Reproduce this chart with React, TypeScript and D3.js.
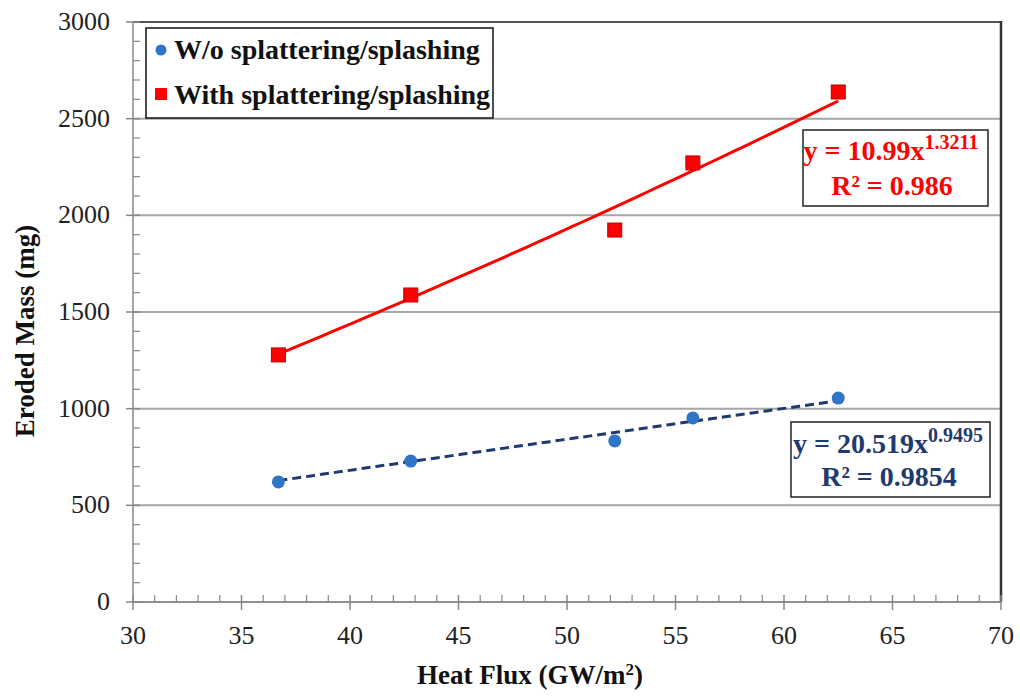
import React from "react";
import * as d3 from "d3";

const heatFlux = [36.7, 42.8, 52.2, 55.8, 62.5];
const massWithout = [621, 729, 833, 952, 1055];
const massWith = [1278, 1588, 1924, 2271, 2638];
const xTicks = [30, 35, 40, 45, 50, 55, 60, 65, 70];
const yTicks = [0, 500, 1000, 1500, 2000, 2500, 3000];
const fitWithoutA = 20.519;
const fitWithoutB = 0.9495;
const fitWithA = 10.99;
const fitWithB = 1.3211;
const seriesNames = ["W/o splattering/splashing", "With splattering/splashing"];

const W = 1020;
const H = 698;
const M = { left: 133, right: 1001, top: 22, bottom: 602 };
const FONT = "'Liberation Serif', 'Times New Roman', serif";
const BLUE = "#2e75c6";
const NAVY = "#1f3a6e";
const RED = "#ff0000";

export default function App() {
  const x = d3.scaleLinear().domain([30, 70]).range([M.left, M.right]);
  const y = d3.scaleLinear().domain([0, 3000]).range([M.bottom, M.top]);
  const xMinor = d3.range(30, 71, 1).filter((v) => v % 5 !== 0);
  const yMinor = d3.range(0, 3001, 100).filter((v) => v % 500 !== 0);

  const xMin = d3.min(heatFlux)!;
  const xMax = d3.max(heatFlux)!;
  const fitXs = d3.range(xMin, xMax, 0.5).concat([xMax]);
  const line = d3
    .line<[number, number]>()
    .x((d) => x(d[0]))
    .y((d) => y(d[1]));
  const fitWithout = line(fitXs.map((v) => [v, fitWithoutA * Math.pow(v, fitWithoutB)] as [number, number]));
  const fitWith = line(fitXs.map((v) => [v, fitWithA * Math.pow(v, fitWithB)] as [number, number]));

  return (
    <div style={{ position: "absolute", left: 0, top: 0 }}>
      <svg width={W} height={H} style={{ display: "block", background: "#fff" }}>
        {/* grid */}
        {yTicks.map((t) => (
          <line key={"g" + t} x1={M.left} x2={M.right} y1={y(t)} y2={y(t)} stroke="#a6a6a6" strokeWidth={2} />
        ))}
        {/* top border */}
        <line x1={M.left} x2={M.right} y1={M.top} y2={M.top} stroke="#555" strokeWidth={2} />
        {/* right border */}
        <line x1={M.right} x2={M.right} y1={M.top - 1} y2={M.bottom} stroke="#333" strokeWidth={2.5} />
        {/* y axis */}
        <line x1={M.left} x2={M.left} y1={M.top} y2={M.bottom} stroke="#888" strokeWidth={1.5} />
        {yTicks.map((t) => (
          <line key={"ym" + t} x1={M.left - 7} x2={M.left + 7} y1={y(t)} y2={y(t)} stroke="#888" strokeWidth={1.5} />
        ))}
        {yMinor.map((t) => (
          <line key={"yn" + t} x1={M.left} x2={M.left + 7} y1={y(t)} y2={y(t)} stroke="#888" strokeWidth={1.2} />
        ))}
        {yTicks.map((t) => (
          <text key={"yl" + t} x={M.left - 23} y={y(t) + 8} textAnchor="end" fontFamily={FONT} fontSize={26} fill="#222">
            {t}
          </text>
        ))}
        {/* x axis */}
        <line x1={M.left} x2={M.right} y1={M.bottom} y2={M.bottom} stroke="#888" strokeWidth={1.5} />
        {xTicks.map((t) => (
          <line key={"xm" + t} x1={x(t)} x2={x(t)} y1={M.bottom - 7} y2={M.bottom + 8} stroke="#888" strokeWidth={1.5} />
        ))}
        {xMinor.map((t) => (
          <line key={"xn" + t} x1={x(t)} x2={x(t)} y1={M.bottom - 7} y2={M.bottom} stroke="#888" strokeWidth={1.2} />
        ))}
        {xTicks.map((t) => (
          <text key={"xl" + t} x={x(t)} y={M.bottom + 42} textAnchor="middle" fontFamily={FONT} fontSize={26} fill="#222">
            {t}
          </text>
        ))}
        {/* axis titles */}
        <text x={530} y={684} textAnchor="middle" fontFamily={FONT} fontSize={27} fontWeight="bold" fill="#111">
          Heat Flux (GW/m<tspan dy={-9} fontSize={17}>2</tspan>
          <tspan dy={9}>)</tspan>
        </text>
        <text
          transform={`translate(34,331) rotate(-90)`}
          textAnchor="middle"
          fontFamily={FONT}
          fontSize={27}
          fontWeight="bold"
          fill="#111"
        >
          Eroded Mass (mg)
        </text>
        {/* trendlines */}
        <path d={fitWith ?? ""} fill="none" stroke={RED} strokeWidth={3} />
        <path d={fitWithout ?? ""} fill="none" stroke={NAVY} strokeWidth={3} strokeDasharray="9,5" />
        {/* points */}
        {heatFlux.map((v, i) => (
          <rect
            key={"r" + i}
            x={x(v) - 7}
            y={y(massWith[i]) - 7}
            width={14}
            height={14}
            fill={RED}
            stroke="#c00000"
            strokeWidth={1}
          />
        ))}
        {heatFlux.map((v, i) => (
          <circle key={"c" + i} cx={x(v)} cy={y(massWithout[i])} r={6.5} fill={BLUE} />
        ))}
        {/* legend */}
        <rect x={146} y={28} width={347} height={90} fill="#fff" stroke="#111" strokeWidth={1.5} />
        <circle cx={161} cy={50} r={5.5} fill={BLUE} />
        <text x={174} y={59} fontFamily={FONT} fontSize={28} fontWeight="bold" fill="#111">
          {seriesNames[0]}
        </text>
        <rect x={155} y={88} width={12} height={12} fill={RED} />
        <text x={174} y={104} fontFamily={FONT} fontSize={28} fontWeight="bold" fill="#111">
          {seriesNames[1]}
        </text>
        {/* red equation box */}
        <rect x={803} y={130} width={185} height={76} fill="#fff" stroke="#222" strokeWidth={1.5} />
        <text x={891} y={160} textAnchor="middle" fontFamily={FONT} fontSize={28} fontWeight="bold" fill={RED}>
          y = {fitWithA}x<tspan dy={-11} fontSize={20}>{fitWithB}</tspan>
        </text>
        <text x={892} y={195} textAnchor="middle" fontFamily={FONT} fontSize={28} fontWeight="bold" fill={RED}>
          R² = 0.986
        </text>
        {/* navy equation box */}
        <rect x={791} y={422} width={199} height={75} fill="#fff" stroke="#222" strokeWidth={1.5} />
        <text x={888} y={453} textAnchor="middle" fontFamily={FONT} fontSize={28} fontWeight="bold" fill={NAVY}>
          y = {fitWithoutA}x<tspan dy={-11} fontSize={20}>{fitWithoutB}</tspan>
        </text>
        <text x={889} y={486} textAnchor="middle" fontFamily={FONT} fontSize={28} fontWeight="bold" fill={NAVY}>
          R² = 0.9854
        </text>
      </svg>
    </div>
  );
}
